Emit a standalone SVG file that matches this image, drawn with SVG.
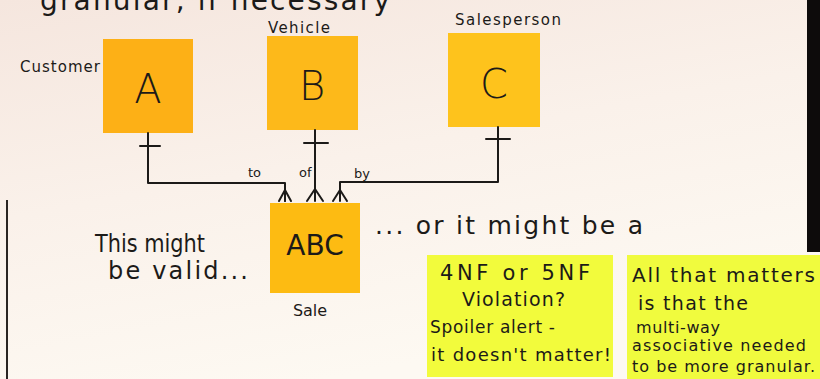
<svg xmlns="http://www.w3.org/2000/svg" width="820" height="379" viewBox="0 0 820 379">
<defs>
<linearGradient id="bg" x1="0" y1="0" x2="0.4" y2="1">
<stop offset="0" stop-color="#f5e6de"/>
<stop offset="0.5" stop-color="#faf1ea"/>
<stop offset="1" stop-color="#fdf9f2"/>
</linearGradient>
<style>
.hand{font-family:"DejaVu Sans","Liberation Sans",sans-serif;fill:#1c1a18}
.line{fill:none;stroke:#1c1a18;stroke-width:2;stroke-linecap:round;stroke-linejoin:round}
.note{stroke:none}
.big{font-size:40px;text-anchor:middle;font-weight:300}
.lbl{font-size:15px}
</style>
</defs>
<rect x="0" y="0" width="820" height="379" fill="url(#bg)"/>
<rect x="807" y="0" width="13" height="252" fill="#0d0b0b"/>
<line x1="7" y1="200" x2="7" y2="379" stroke="#2a2522" stroke-width="2"/>

<text class="hand" x="40" y="10" font-size="28" textLength="350" lengthAdjust="spacing">granular, if necessary</text>

<g id="customer">
<rect class="note" x="103" y="39" width="90" height="94" fill="#fdb016"/>
<text class="hand big" x="148" y="103">A</text>
<text class="hand lbl" x="20" y="72" textLength="80" lengthAdjust="spacing">Customer</text>
</g>
<g id="vehicle">
<rect class="note" x="267" y="36" width="91" height="94" fill="#fdb91a"/>
<text class="hand big" x="312" y="100">B</text>
<text class="hand lbl" x="268" y="33" textLength="62" lengthAdjust="spacing">Vehicle</text>
</g>
<g id="salesperson">
<rect class="note" x="448" y="33" width="92" height="94" fill="#fec31c"/>
<text class="hand big" x="494" y="98">C</text>
<text class="hand lbl" x="455" y="25" textLength="106" lengthAdjust="spacing">Salesperson</text>
</g>
<g id="sale">
<rect class="note" x="270" y="203" width="90" height="90" fill="#fdbb12"/>
<text class="hand" x="315" y="255" font-size="28" text-anchor="middle" fill="#3a2612">ABC</text>
<text class="hand" x="310" y="316" font-size="16" text-anchor="middle">Sale</text>
</g>

<g id="connectors">
<path class="line" d="M148 133 V183 H285 V201"/>
<path class="line" d="M140 146 H160"/>
<path class="line" d="M279 201 L285 190 L291 201 M285 190 V201"/>
<path class="line" d="M315 130 V201"/>
<path class="line" d="M304 143 H328"/>
<path class="line" d="M307 201 L315 189 L323 201"/>
<path class="line" d="M498 127 V182 H340 V201"/>
<path class="line" d="M486 139 H510"/>
<path class="line" d="M333 201 L340 190 L347 201"/>
<text class="hand" x="248" y="177" font-size="13">to</text>
<text class="hand" x="299" y="177" font-size="13">of</text>
<text class="hand" x="354" y="178" font-size="13">by</text>
</g>

<g id="notes-text">
<text class="hand" x="95" y="252" font-size="24" textLength="110" lengthAdjust="spacingAndGlyphs">This might</text>
<text class="hand" x="108" y="279" font-size="24" textLength="140" lengthAdjust="spacing">be valid...</text>
<text class="hand" x="375" y="234" font-size="25" textLength="268" lengthAdjust="spacing">... or it might be a</text>
</g>

<g id="note-violation">
<rect class="note" x="427" y="255" width="186" height="122" fill="#f2fb3c"/>
<text class="hand" x="440" y="280" font-size="21" textLength="150" lengthAdjust="spacing">4NF or 5NF</text>
<text class="hand" x="462" y="306" font-size="19" textLength="103" lengthAdjust="spacing">Violation?</text>
<text class="hand" x="430" y="333" font-size="17" textLength="125" lengthAdjust="spacing">Spoiler alert -</text>
<text class="hand" x="431" y="361" font-size="18" textLength="180" lengthAdjust="spacing">it doesn't matter!</text>
</g>
<g id="note-matters">
<rect class="note" x="627" y="255" width="193" height="124" fill="#f0fb3e"/>
<text class="hand" x="632" y="282" font-size="20" textLength="183" lengthAdjust="spacing">All that matters</text>
<text class="hand" x="638" y="310" font-size="19" textLength="110" lengthAdjust="spacing">is that the</text>
<text class="hand" x="636" y="333" font-size="16" textLength="84" lengthAdjust="spacing">multi-way</text>
<text class="hand" x="632" y="351" font-size="16" textLength="174" lengthAdjust="spacing">associative needed</text>
<text class="hand" x="632" y="372" font-size="16" textLength="183" lengthAdjust="spacing">to be more granular.</text>
</g>
</svg>
